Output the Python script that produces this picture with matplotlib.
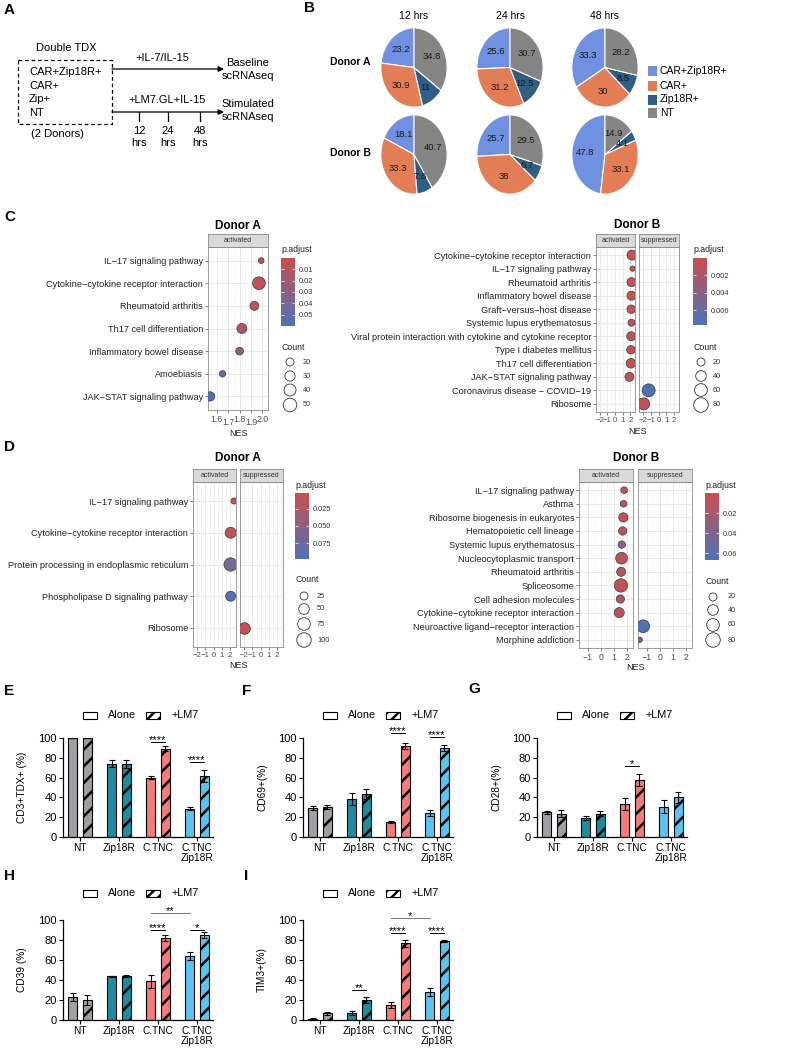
import numpy as np
import matplotlib
matplotlib.use('Agg')
import matplotlib.pyplot as plt
from matplotlib.colors import LinearSegmentedColormap, Normalize
from matplotlib.patches import Rectangle

plt.rcParams['font.family'] = ['Liberation Sans', 'DejaVu Sans']
plt.rcParams['hatch.linewidth'] = 1.8

# ---------------- data ----------------
# panel A
tdx_groups = ['CAR+Zip18R+', 'CAR+', 'Zip+', 'NT']
stim_times = ['12', '24', '48']

# panel B: % of cells
pie_types = ['CAR+Zip18R+', 'CAR+', 'Zip18R+', 'NT']
pie_times = ['12 hrs', '24 hrs', '48 hrs']
pie_donors = ['Donor A', 'Donor B']
pie_A = [[23.2, 30.9, 11, 34.8], [25.6, 31.2, 12.5, 30.7], [33.3, 30, 8.5, 28.2]]
pie_B = [[18.1, 33.3, 7.8, 40.7], [25.7, 38, 6.7, 29.5], [47.8, 33.1, 4.1, 14.9]]
pie_colors = ['#7090E2', '#E37D56', '#2E5E84', '#858585']

# panel C, donor A
cA_terms = ['IL\u221217 signaling pathway', 'Cytokine\u2212cytokine receptor interaction',
            'Rheumatoid arthritis', 'Th17 cell differentiation', 'Inflammatory bowel disease',
            'Amoebiasis', 'JAK\u2212STAT signaling pathway']
cA_nes = [1.99, 1.97, 1.93, 1.82, 1.80, 1.65, 1.54]
cA_count = [12, 45, 24, 29, 19, 14, 26]
cA_padj = [0.004, 0.007, 0.006, 0.011, 0.027, 0.054, 0.058]
cA_group = ['activated'] * 7

# panel C, donor B
cB_terms = ['Cytokine\u2212cytokine receptor interaction', 'IL\u221217 signaling pathway',
            'Rheumatoid arthritis', 'Inflammatory bowel disease', 'Graft\u2212versus\u2212host disease',
            'Systemic lupus erythematosus',
            'Viral protein interaction with cytokine and cytokine receptor',
            'Type I diabetes mellitus', 'Th17 cell differentiation', 'JAK\u2212STAT signaling pathway',
            'Coronavirus disease \u2212 COVID\u221219', 'Ribosome']
cB_nes = [2.21, 2.28, 2.14, 2.14, 2.10, 2.14, 2.10, 2.07, 2.07, 1.87, -1.27, -1.9]
cB_count = [35, 5, 27, 27, 23, 14, 27, 23, 31, 27, 63, 53]
cB_padj = [0.0002, 0.0003, 0.0004, 0.0003, 0.0005, 0.0004, 0.0006, 0.0004, 0.0005, 0.0008,
           0.0076, 0.0008]
cB_group = ['activated'] * 10 + ['suppressed'] * 2

# panel D, donor A
dA_terms = ['IL\u221217 signaling pathway', 'Cytokine\u2212cytokine receptor interaction',
            'Protein processing in endoplasmic reticulum', 'Phospholipase D signaling pathway',
            'Ribosome']
dA_nes = [2.45, 2.05, 2.05, 2.05, -2.0]
dA_count = [11, 54, 83, 43, 62]
dA_padj = [0.004, 0.012, 0.066, 0.093, 0.006]
dA_group = ['activated'] * 4 + ['suppressed']

# panel D, donor B
dB_terms = ['IL\u221217 signaling pathway', 'Asthma', 'Ribosome biogenesis in eukaryotes',
            'Hematopoietic cell lineage', 'Systemic lupus erythematosus',
            'Nucleocytoplasmic transport', 'Rheumatoid arthritis', 'Spliceosome',
            'Cell adhesion molecules', 'Cytokine\u2212cytokine receptor interaction',
            'Neuroactive ligand\u2212receptor interaction', 'Morphine addiction']
dB_nes = [1.81, 1.77, 1.75, 1.70, 1.63, 1.61, 1.58, 1.56, 1.52, 1.43, -1.29, -1.56]
dB_count = [12, 12, 29, 22, 16, 50, 27, 66, 22, 35, 60, 5]
dB_padj = [0.004, 0.006, 0.005, 0.008, 0.033, 0.006, 0.012, 0.005, 0.014, 0.010, 0.066, 0.048]
dB_group = ['activated'] * 10 + ['suppressed'] * 2

# panels E-I: % positive, mean and error
bar_groups = ['NT', 'Zip18R', 'C.TNC', 'C.TNC\nZip18R']
bar_colors = ['#A0A0A4', '#1C8C9E', '#F47B79', '#5CC2F2']
E_alone, E_alone_err = [100, 74, 60, 28.5], [0, 3.5, 1.5, 1.5]
E_lm7, E_lm7_err = [100, 74, 89, 61.5], [0, 4, 2.5, 6]
F_alone, F_alone_err = [29, 38, 15, 24], [2, 6, 1, 3]
F_lm7, F_lm7_err = [30, 43, 91.5, 89.5], [2, 5, 3, 3]
G_alone, G_alone_err = [25, 19, 33, 30.5], [1.5, 2, 6, 6.5]
G_lm7, G_lm7_err = [23.5, 23.5, 57.5, 40], [3.5, 2.5, 6, 5.5]
H_alone, H_alone_err = [23, 44, 39, 64], [4, 0.5, 6.5, 4]
H_lm7, H_lm7_err = [20, 44, 82, 85], [5, 1, 3, 3]
I_alone, I_alone_err = [1.3, 6.7, 15, 27.7], [0.5, 2, 2.7, 4]
I_lm7, I_lm7_err = [6.7, 20, 76.7, 79], [1.5, 2.7, 3.3, 1]

# ---------------- figure ----------------
W, H = 793, 1051
fig = plt.figure(figsize=(W / 100, H / 100), dpi=100)


def box(x0, y0, x1, y1):
    # pixel box, top-left origin -> figure fraction
    return [x0 / W, 1 - y1 / H, (x1 - x0) / W, (y1 - y0) / H]


ov = fig.add_axes([0, 0, 1, 1], zorder=20)
ov.set_xlim(0, W)
ov.set_ylim(H, 0)
ov.axis('off')

for lab, x, y in [('A', 4, 10), ('B', 304, 8), ('C', 4, 217), ('D', 4, 447), ('E', 4, 691),
                  ('F', 242, 691), ('G', 468, 689), ('H', 4, 876), ('I', 244, 876)]:
    ov.text(x, y, lab, fontsize=11, fontweight='bold', va='center', ha='left')

# ---- A: schematic ----
fa = 8
ov.text(66, 48, 'Double TDX', fontsize=fa, ha='center', va='center')
ov.add_patch(Rectangle((18, 60), 94, 64, fill=False, ec='black', lw=0.9, ls=(0, (3, 2.2))))
for txt, y in zip(tdx_groups, [72, 86, 99, 113]):
    ov.text(29, y, txt, fontsize=fa, va='center')
ov.text(57, 134, '(2 Donors)', fontsize=fa, ha='center', va='center')
arrow = dict(arrowstyle='-|>', color='black', lw=0.9, mutation_scale=8, shrinkA=0, shrinkB=0)
ov.annotate('', xy=(224, 69), xytext=(112, 69), arrowprops=arrow)
ov.annotate('', xy=(224, 112), xytext=(112, 112), arrowprops=arrow)
ov.text(162, 58, '+IL-7/IL-15', fontsize=fa, ha='center', va='center')
ov.text(167, 100, '+LM7.GL+IL-15', fontsize=fa, ha='center', va='center')
for x, t in zip([139, 168, 200], stim_times):
    ov.plot([x, x], [112, 121], color='black', lw=0.9)
    ov.text(x, 131, t, fontsize=fa, ha='center', va='center')
    ov.text(x, 143, 'hrs', fontsize=fa, ha='center', va='center')
for txt, y in [('Baseline', 63), ('scRNAseq', 76), ('Stimulated', 104), ('scRNAseq', 117)]:
    ov.text(248, y, txt, fontsize=fa, ha='center', va='center')

# ---- B: pies ----
pie_cx = [414, 510, 605]
pie_cy = [67.5, 154.5]
rx, ry = 33.5, 40
for j, t in enumerate(pie_times):
    ov.text(pie_cx[j], 16, t, fontsize=7.5, ha='center', va='center')
for i, (donor, data) in enumerate(zip(pie_donors, [pie_A, pie_B])):
    ov.text(350, [62, 153][i], donor, fontsize=7.5, fontweight='bold', ha='center', va='center')
    for j, vals in enumerate(data):
        cx, cy = pie_cx[j], pie_cy[i]
        ax = fig.add_axes(box(cx - rx, cy - ry, cx + rx, cy + ry))
        ax.pie(vals, colors=pie_colors, startangle=90, counterclock=True,
               wedgeprops=dict(edgecolor='white', linewidth=0.8))
        ax.set_aspect('auto')
        ax.set_xlim(-1.01, 1.01)
        ax.set_ylim(-1.01, 1.01)
        tot = sum(vals)
        cum = 0
        for v in vals:
            mid = np.deg2rad(90 + (cum + v / 2) / tot * 360)
            ax.text(0.6 * np.cos(mid), 0.6 * np.sin(mid), f'{v:g}', ha='center', va='center',
                    fontsize=6.8, color='#1a1a1a')
            cum += v
for k, (name, y) in enumerate(zip(pie_types, [71, 86, 99.5, 112.5])):
    ov.add_patch(Rectangle((648, y - 5), 9, 10, fc=pie_colors[k], ec='none'))
    ov.text(660, y, name, fontsize=7.5, va='center')

# ---- C/D: GSEA dot plots ----
cmap = LinearSegmentedColormap.from_list('padj', ['#C9504E', '#4E72B8'])


def size_map(c0, d0, c1, d1):
    def f(c):
        a = d0 ** 2 + (c - c0) * (d1 ** 2 - d0 ** 2) / (c1 - c0)
        return max(a, 12) * 0.72 ** 2
    return f


def dotplot(terms, nes, count, padj, group, facets, y0, y1, title, title_x, title_y,
            norm, smap, xlim, xticks, nes_y, stagger=False, xfs=6.3):
    n = len(terms)
    pos = np.arange(n)
    for k, (name, x0, x1) in enumerate(facets):
        ax = fig.add_axes(box(x0, y0, x1, y1))
        sel = [i for i in range(n) if group[i] == name]
        if sel:
            ax.scatter([nes[i] for i in sel], [pos[i] for i in sel],
                       s=[smap(count[i]) for i in sel], c=[padj[i] for i in sel],
                       cmap=cmap, norm=norm, edgecolors='#3a3a3a', linewidths=0.5, zorder=3)
        ax.set_xlim(xlim)
        ax.set_ylim(n - 0.4, -0.6)
        ax.set_xticks(xticks)
        ax.set_xticks([(a + b) / 2 for a, b in zip(xticks[:-1], xticks[1:])]
                      + [xticks[0] - (xticks[1] - xticks[0]) / 2,
                         xticks[-1] + (xticks[1] - xticks[0]) / 2], minor=True)
        ax.set_yticks(pos)
        ax.grid(which='major', color='#e6e6e6', lw=0.6)
        ax.grid(which='minor', axis='x', color='#f1f1f1', lw=0.4)
        ax.set_axisbelow(True)
        ax.tick_params(which='minor', length=0)
        ax.tick_params(axis='both', length=2, width=0.5, color='#4d4d4d', pad=1.5)
        if k == 0:
            ax.set_yticklabels(terms, fontsize=6.6, color='#222222')
        else:
            ax.set_yticklabels([])
            ax.tick_params(axis='y', length=0)
        if stagger:
            ax.set_xticklabels([])
            for m, t in enumerate(xticks):
                ax.annotate(f'{t:.1f}', xy=(t, 0), xycoords=('data', 'axes fraction'),
                            xytext=(0, -3.5 - (2.5 if m % 2 else 0)), textcoords='offset points',
                            ha='center', va='top', fontsize=xfs, color='#4d4d4d')
        else:
            ax.set_xticklabels([f'{t:g}'.replace('-', '\u2212') for t in xticks],
                               fontsize=xfs, color='#4d4d4d')
        for sp in ax.spines.values():
            sp.set_color('#8c8c8c')
            sp.set_linewidth(0.6)
        sax = fig.add_axes(box(x0, y0 - 13, x1, y0))
        sax.set_facecolor('#d9d9d9')
        sax.set_xticks([])
        sax.set_yticks([])
        for sp in sax.spines.values():
            sp.set_color('#8c8c8c')
            sp.set_linewidth(0.6)
        sax.text(0.5, 0.5, name, fontsize=5, ha='center', va='center', color='#333333',
                 transform=sax.transAxes)
    ov.text(title_x, title_y, title, fontsize=8.5, fontweight='bold', ha='center', va='center')
    ov.text((facets[0][1] + facets[-1][2]) / 2, nes_y, 'NES', fontsize=6.5, ha='center',
            va='center', color='#222222')


def legends(x, title_y, bar_top, bar_bot, norm, ticks, tick_labels,
            cnt_title_y, cnt_vals, cnt_rows, smap, circ_x, lab_x):
    ov.text(x, title_y, 'p.adjust', fontsize=6.3, va='center', color='#222222')
    cax = fig.add_axes(box(x, bar_top, x + 14, bar_bot))
    grad = np.linspace(norm.vmin, norm.vmax, 256)[:, None]
    cax.imshow(grad, aspect='auto', cmap=cmap, norm=norm,
               extent=[0, 1, norm.vmax, norm.vmin])
    cax.set_ylim(norm.vmax, norm.vmin)
    cax.set_xticks([])
    cax.set_yticks(ticks)
    cax.set_yticklabels(tick_labels, fontsize=5.3, color='#333333')
    cax.tick_params(axis='y', direction='in', left=True, right=True, labelleft=False,
                    labelright=True, color='white', length=2.5, width=0.5, pad=3)
    for sp in cax.spines.values():
        sp.set_visible(False)
    ov.text(x, cnt_title_y, 'Count', fontsize=6.3, va='center', color='#222222')
    for v, y in zip(cnt_vals, cnt_rows):
        ov.scatter([circ_x], [y], s=smap(v), facecolors='none', edgecolors='#333333',
                   linewidths=0.6)
        ov.text(lab_x, y, str(v), fontsize=5.3, va='center', color='#333333')


# C, donor A
normCA = Normalize(0.0004, 0.0596)
smCA = size_map(20, 8, 50, 13.5)
dotplot(cA_terms, cA_nes, cA_count, cA_padj, cA_group, [('activated', 208, 268)], 247, 410,
        'Donor A', 238, 226, normCA, smCA, (1.522, 2.012), [1.6, 1.7, 1.8, 1.9, 2.0], 433,
        stagger=True)
legends(281, 250, 258, 326, normCA, [0.01, 0.02, 0.03, 0.04, 0.05],
        ['0.01', '0.02', '0.03', '0.04', '0.05'], 347, [20, 30, 40, 50],
        [362, 376, 390, 405], smCA, 290, 303)

# C, donor B
normCB = Normalize(0.00006, 0.0077)
smCB = size_map(20, 8, 80, 14.5)
dotplot(cB_terms, cB_nes, cB_count, cB_padj, cB_group,
        [('activated', 596, 635), ('suppressed', 639, 679)], 247, 412,
        'Donor B', 637, 225, normCB, smCB, (-2.12, 2.6), [-2, -1, 0, 1, 2], 431, xfs=5.6)
legends(693, 250, 258, 325, normCB, [0.002, 0.004, 0.006], ['0.002', '0.004', '0.006'],
        347, [20, 40, 60, 80], [362, 376, 390, 405], smCB, 701, 713)

# D, donor A
normDA = Normalize(0.0015, 0.0985)
smDA = size_map(25, 8, 100, 14.5)
dotplot(dA_terms, dA_nes, dA_count, dA_padj, dA_group,
        [('activated', 193, 236), ('suppressed', 240, 283)], 482, 647,
        'Donor A', 238, 458, normDA, smDA, (-2.3, 2.7), [-2, -1, 0, 1, 2], 665, xfs=5.6)
legends(295, 485, 493, 559, normDA, [0.025, 0.05, 0.075], ['0.025', '0.050', '0.075'],
        580, [25, 50, 75, 100], [596, 609, 624, 640], smDA, 304, 317)

# D, donor B
normDB = Normalize(0.0, 0.067)
smDB = size_map(20, 8, 80, 14.5)
dotplot(dB_terms, dB_nes, dB_count, dB_padj, dB_group,
        [('activated', 579, 633), ('suppressed', 638, 692)], 482, 648,
        'Donor B', 636, 458, normDB, smDB, (-1.7, 2.07), [-1, 0, 1, 2], 667)
legends(705, 485, 493, 560, normDB, [0.02, 0.04, 0.06], ['0.02', '0.04', '0.06'],
        582, [20, 40, 60, 80], [597, 610, 625, 640], smDB, 713, 728)

# ---- E-I: bar charts ----
OFF, BW = 0.19, 0.245


def barpanel(x0, y0, x1, y1, alone, alone_err, lm7, lm7_err, ylabel, legend_y):
    ax = fig.add_axes(box(x0, y0, x1, y1))
    pos = np.arange(len(bar_groups))
    ax.bar(pos - OFF, alone, BW, color=bar_colors, edgecolor='black', linewidth=0.8, zorder=2)
    ax.bar(pos + OFF, lm7, BW, color=bar_colors, edgecolor='black', linewidth=0.8,
           hatch='//', zorder=2)
    ax.errorbar(pos - OFF, alone, yerr=alone_err, fmt='none', ecolor='black', elinewidth=0.8,
                capsize=2.5, capthick=0.8, zorder=3)
    ax.errorbar(pos + OFF, lm7, yerr=lm7_err, fmt='none', ecolor='black', elinewidth=0.8,
                capsize=2.5, capthick=0.8, zorder=3)
    ax.set_xlim(-17 / 39, 133 / 39)
    ax.set_ylim(0, 100)
    ax.set_yticks([0, 20, 40, 60, 80, 100])
    ax.set_xticks(pos)
    ax.set_xticklabels(bar_groups, fontsize=7.3, linespacing=1.0)
    ax.tick_params(axis='y', labelsize=8, length=3, width=0.8, pad=1.5)
    ax.tick_params(axis='x', length=3, width=0.8, pad=1.5)
    for sp in ['top', 'right']:
        ax.spines[sp].set_visible(False)
    for sp in ['left', 'bottom']:
        ax.spines[sp].set_linewidth(0.9)
    ax.set_ylabel(ylabel, fontsize=7.3)
    ax.yaxis.set_label_coords(-36 / (x1 - x0), 0.5)
    lx = x0 + 20
    ov.add_patch(Rectangle((lx, legend_y - 3.5), 14, 7, fc='white', ec='black', lw=0.8))
    ov.text(lx + 25, legend_y, 'Alone', fontsize=7.8, va='center')
    ov.add_patch(Rectangle((lx + 63, legend_y - 3.5), 14, 7, fc='white', ec='black', lw=0.8,
                           hatch='///'))
    ov.text(lx + 89, legend_y, '+LM7', fontsize=7.8, va='center')
    return ax


def sig(ax, xa, xb, y, text, color='black'):
    ax.plot([xa, xb], [y, y], color=color, lw=0.7, clip_on=False)
    ax.text((xa + xb) / 2, y - 1.2, text, ha='center', va='baseline', fontsize=8,
            clip_on=False)


axE = barpanel(63, 738, 213, 837, E_alone, E_alone_err, E_lm7, E_lm7_err, 'CD3+TDX+ (%)', 715)
sig(axE, 2 - OFF, 2 + OFF, 96, '****')
sig(axE, 3 - OFF, 3 + OFF, 76, '****')

axF = barpanel(303, 738, 453, 837, F_alone, F_alone_err, F_lm7, F_lm7_err, 'CD69+(%)', 715)
sig(axF, 2 - OFF, 2 + OFF, 105, '****')
sig(axF, 3 - OFF, 3 + OFF, 101, '****')

axG = barpanel(537, 738, 687, 837, G_alone, G_alone_err, G_lm7, G_lm7_err, 'CD28+(%)', 715)
sig(axG, 2 - OFF, 2 + OFF, 72, '*')

axH = barpanel(63, 920, 213, 1020, H_alone, H_alone_err, H_lm7, H_lm7_err, 'CD39 (%)', 893)
sig(axH, 2 - OFF, 2 + OFF, 90, '****')
sig(axH, 3 - OFF, 3 + OFF, 90, '*')
sig(axH, 2 - OFF, 3 - OFF, 107, '**', color='#777777')

axI = barpanel(303, 920, 453, 1020, I_alone, I_alone_err, I_lm7, I_lm7_err, 'TIM3+(%)', 893)
sig(axI, 1 - OFF, 1 + OFF, 30, '**')
sig(axI, 2 - OFF, 2 + OFF, 87, '****')
sig(axI, 3 - OFF, 3 + OFF, 87, '****')
sig(axI, 2 - OFF, 3 - OFF, 102, '*', color='#777777')

fig.savefig('out.png', dpi=100, facecolor='white')
